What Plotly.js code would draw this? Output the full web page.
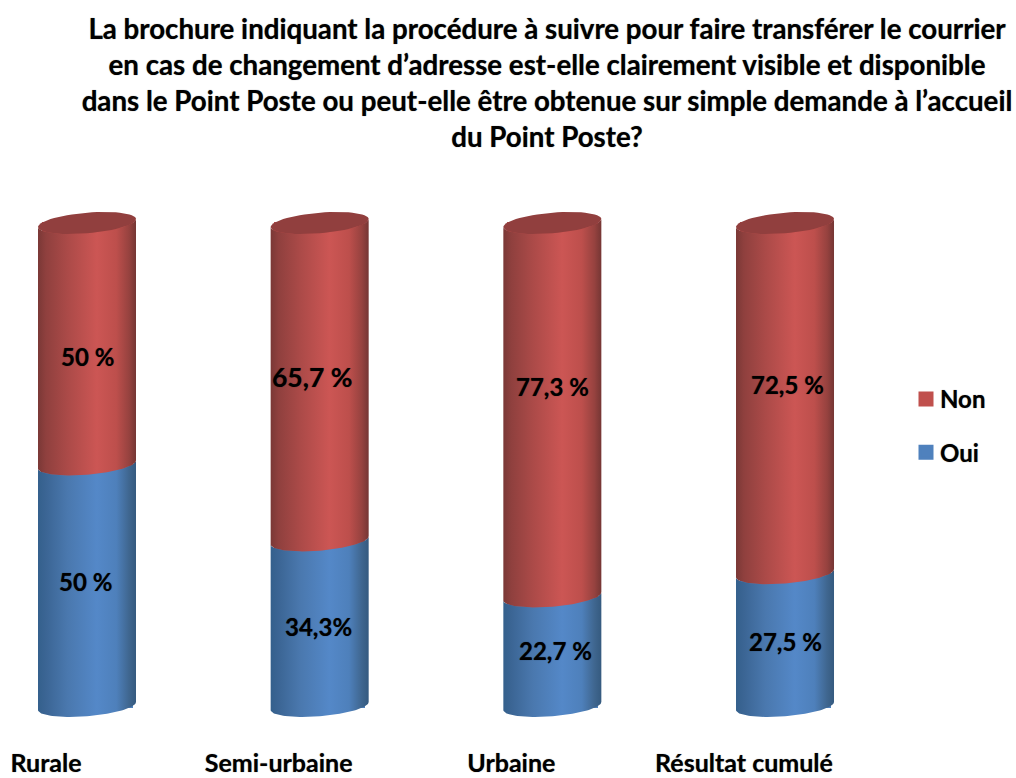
<!DOCTYPE html>
<html><head><meta charset="utf-8">
<script src="https://cdn.plot.ly/plotly-3.0.1.min.js"></script>
<style>html,body{margin:0;padding:0;background:#fff}</style></head>
<body><div id="chart" style="width:1016px;height:778px"></div>
<script>
const categories = ['Rurale','Semi-urbaine','Urbaine','Résultat cumulé'];
const oui = [50, 34.3, 22.7, 27.5];
const non = [50, 65.7, 77.3, 72.5];
const ouiLabels = ['50 %','34,3%','22,7 %','27,5 %'];
const nonLabels = ['50 %','65,7 %','77,3 %','72,5 %'];
const titleLines = [
 'La brochure indiquant la procédure à suivre pour faire transférer le courrier',
 'en cas de changement d’adresse est-elle clairement visible et disponible',
 'dans le Point Poste ou peut-elle être obtenue sur simple demande à l’accueil',
 'du Point Poste?'];

const FONT = 'Lato, Carlito, Calibri, sans-serif';
const SHADOW = '0 0 1px rgba(0,0,0,0.55)';
const pxX = 232.67, pxY = 4.83;
const W = 1016, H = 778, mT = 190, mB = 32, mR = 116;
const x0 = 87, y0 = 706;
const xRange = [-x0/pxX, (W-mR-x0)/pxX];
const yRange = [(y0-(H-mB))/pxY, (y0-mT)/pxY];
const a = 49/pxX, sk = 4/pxY, b = 10.3/pxY;
const redScale = [[0,'#7a3836'],[.08,'#8f403e'],[.3,'#ab4a48'],[.6,'#cc5654'],[.8,'#bd4f4c'],[.93,'#96423f'],[1,'#753634']];
const blueScale = [[0,'#34608c'],[.08,'#3b6594'],[.3,'#4a78ae'],[.6,'#5488c8'],[.8,'#4e80bb'],[.93,'#3f668f'],[1,'#355a7f']];

function arc(cx, level, from, to){
  const xs=[], ys=[], n=60;
  for(let k=0;k<=n;k++){
    const t = from+(to-from)*k/n;
    xs.push(cx+a*Math.cos(t));
    ys.push(level+sk*Math.cos(t)-b*Math.sin(t));
  }
  return [xs,ys];
}
function body(cx, lo, hi, scale){
  const top = arc(cx,hi,Math.PI,0), bot = arc(cx,lo,0,Math.PI);
  return {type:'scatter',mode:'lines',x:top[0].concat(bot[0]),y:top[1].concat(bot[1]),
    fill:'toself',line:{width:0},hoverinfo:'skip',showlegend:false,
    fillcolor:scale[3][1],fillgradient:{type:'horizontal',colorscale:scale}};
}
function cap(cx, level){
  const e = arc(cx,level,0,2*Math.PI);
  return {type:'scatter',mode:'lines',x:e[0],y:e[1],fill:'toself',line:{width:0},
    fillcolor:'#913f3e',hoverinfo:'skip',showlegend:false};
}
const xs = categories.map((_,i)=>i);
const barW = 88/pxX;
const traces = [
 {type:'bar',name:'Oui',x:xs,y:oui,width:barW,legendgroup:'o',legendrank:2,marker:{color:'#4f81bd',line:{color:'#4f81bd',width:3}},hoverinfo:'skip'},
 {type:'bar',name:'Non',x:xs,y:non,width:barW,legendgroup:'n',legendrank:1,marker:{color:'#c0504d',line:{color:'#c0504d',width:3}},hoverinfo:'skip'}
];
xs.forEach(i=>{
  traces.push(body(i,0,oui[i],blueScale));
  traces.push(body(i,oui[i],oui[i]+non[i],redScale));
  traces.push(cap(i,oui[i]+non[i]));
});
const nonShift = [[0,-13],[-8,5],[0,23],[2,14]];
const ouiShift = [[-2,4],[-1,-3],[3,1],[0,-2]];
const nonSizes = [24,26.5,24,24];
const annotations = [];
xs.forEach(i=>{
  const common = {xref:'x',yref:'y',x:i,showarrow:false};
  const f = s => ({family:FONT,size:s,color:'#000',weight:700,shadow:SHADOW});
  annotations.push(Object.assign({},common,{y:oui[i]/2,text:ouiLabels[i],font:f(24),xshift:ouiShift[i][0],yshift:ouiShift[i][1]}));
  annotations.push(Object.assign({},common,{y:oui[i]+non[i]/2,text:nonLabels[i],font:f(nonSizes[i]),xshift:nonShift[i][0],yshift:nonShift[i][1]}));
});
const layout = {
  width:W,height:H,paper_bgcolor:'#fff',plot_bgcolor:'rgba(0,0,0,0)',
  barmode:'stack',margin:{l:0,r:mR,t:mT,b:mB,autoexpand:false},
  title:{text:titleLines.join('<br>'),
    x:547/W,xanchor:'center',y:1-39/H,yanchor:'top',font:{family:FONT,size:27.7,color:'#000',weight:700,shadow:SHADOW}},
  xaxis:{range:xRange,showgrid:false,zeroline:false,showline:false,ticks:'',
    tickmode:'array',tickvals:xs.map(i=>i-41/pxX),ticktext:categories,
    tickfont:{family:FONT,size:25,color:'#000',weight:700,shadow:SHADOW}},
  yaxis:{range:yRange,visible:false,showgrid:false,zeroline:false},
  legend:{x:900/W,xanchor:'left',y:1-(399-22)/H,yanchor:'top',xref:'container',yref:'container',
    traceorder:'grouped',tracegroupgap:19,font:{family:FONT,size:24,color:'#000',weight:700,shadow:SHADOW},
    bgcolor:'rgba(0,0,0,0)'},
  showlegend:true,annotations:annotations
};
Plotly.newPlot('chart',traces,layout,{displayModeBar:false,staticPlot:true}).then(gd=>{
  gd.querySelectorAll('.legendpoints').forEach(g=>g.setAttribute('transform','translate(6,0)'));
});
</script></body></html>
